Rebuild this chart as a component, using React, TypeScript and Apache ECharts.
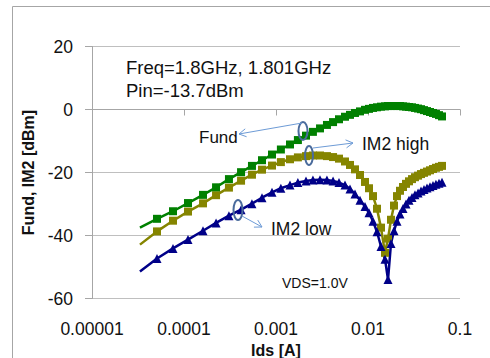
import React, { useEffect, useRef } from "react";
import * as echarts from "echarts";

// Drain current (A) of measured points (shared VGS sweep)
const ids = [
  5.09e-5, 7.59e-5, 1.105e-4, 1.61e-4, 2.23e-4, 3.08e-4, 4.17e-4, 5.48e-4, 7.04e-4, 9.05e-4,
  1.13e-3, 1.42e-3, 1.73e-3, 2.12e-3, 2.52e-3, 3.01e-3, 3.58e-3, 4.17e-3, 4.84e-3, 5.62e-3,
  6.37e-3, 7.22e-3, 8.19e-3, 9.28e-3, 1.025e-2, 1.133e-2, 1.252e-2, 1.384e-2, 1.53e-2, 1.65e-2,
  1.778e-2, 1.917e-2, 2.067e-2, 2.227e-2, 2.4e-2, 2.59e-2, 2.79e-2, 3.01e-2, 3.24e-2, 3.5e-2,
  3.77e-2, 4.06e-2, 4.38e-2, 4.72e-2, 5.09e-2, 5.48e-2, 5.91e-2, 6.37e-2,
];
// first point of the simulated lines (no marker)
const lineStartIds = 3.32e-5;

const fund = [
  -34.7, -32.3, -29.7, -27.1, -24.7, -22.1, -19.9, -17.9, -16.1, -14.3,
  -12.7, -11.1, -9.7, -8.3, -7.1, -6.0, -4.9, -4.0, -3.1, -2.3,
  -1.7, -1.1, -0.6, -0.1, 0.2, 0.5, 0.7, 0.9, 1.0, 1.1,
  1.1, 1.1, 1.1, 1.1, 1.0, 0.9, 0.8, 0.7, 0.5, 0.3,
  0.1, -0.2, -0.5, -0.8, -1.1, -1.4, -1.8, -2.2,
];
const fundStart = -37.5;

const im2High = [
  -38.7, -35.3, -32.4, -29.8, -27.2, -24.8, -22.6, -20.7, -19.1, -17.8,
  -16.7, -15.8, -15.2, -14.8, -14.6, -14.6, -14.8, -15.1, -15.6, -16.5,
  -17.6, -19.0, -20.8, -23.0, -25.0, -27.5, -31.5, -37.5, -45.5, -41.0,
  -35.0, -30.5, -27.5, -25.8, -24.6, -23.6, -22.8, -22.1, -21.5, -21.0,
  -20.5, -20.1, -19.7, -19.3, -18.9, -18.5, -18.2, -17.9,
];
const im2HighStart = -42.9;

const im2Low = [
  -47.3, -44.1, -41.3, -38.5, -36.0, -33.7, -31.8, -29.9, -28.0, -26.3,
  -25.0, -24.0, -23.2, -22.7, -22.4, -22.3, -22.4, -22.7, -23.2, -24.0,
  -25.2, -26.8, -28.8, -30.8, -32.8, -35.5, -38.8, -43.5, -47.5, -54.0,
  -42.5, -38.5, -35.5, -33.2, -31.4, -30.0, -28.8, -27.9, -27.1, -26.5,
  -25.9, -25.4, -24.9, -24.5, -24.1, -23.7, -23.4, -23.1,
];
const im2LowStart = -51.4;

const xTickLabels = ["0.00001", "0.0001", "0.001", "0.01", "0.1"];
const yTicks = [-60, -40, -20, 0, 20];

const FONT = '"Liberation Sans", Arial, sans-serif';

function build(start: number, vals: number[]) {
  return [
    { value: [lineStartIds, start], symbol: "none" },
    ...ids.map((x, i) => [x, vals[i]]),
  ];
}

function arrow(x1: number, y1: number, x2: number, y2: number) {
  const dx = x2 - x1;
  const dy = y2 - y1;
  const len = Math.sqrt(dx * dx + dy * dy);
  const ux = dx / len;
  const uy = dy / len;
  const nx = -uy;
  const ny = ux;
  const bx = x2 - 7 * ux;
  const by = y2 - 7 * uy;
  const st = { stroke: "#6d9bd6", lineWidth: 1, fill: "none" };
  return [
    { type: "line", shape: { x1, y1, x2, y2 }, style: st, z: 100 },
    {
      type: "polyline",
      shape: { points: [[bx + 4 * nx, by + 4 * ny], [x2, y2], [bx - 4 * nx, by - 4 * ny]] },
      style: st,
      z: 100,
    },
  ];
}

function txt(x: number, y: number, text: string, size: number) {
  return {
    type: "text",
    x,
    y,
    z: 100,
    style: { text, fill: "#111", font: `${size}px ${FONT}`, verticalAlign: "middle", align: "left" },
  };
}

function ell(cx: number, cy: number, rx: number, ry: number) {
  return {
    type: "ellipse",
    shape: { cx, cy, rx, ry },
    z: 100,
    style: { stroke: "#4a6b9c", lineWidth: 2, fill: "none" },
  };
}

export default function App() {
  const ref = useRef<HTMLDivElement>(null);
  useEffect(() => {
    if (!ref.current) return;
    const chart = echarts.init(ref.current, undefined, { renderer: "svg" });
    const option: any = {
      animation: false,
      backgroundColor: "#fff",
      grid: {
        left: 92,
        right: 30,
        top: 46.5,
        bottom: 59.5,
        containLabel: false,
        outerBoundsMode: "none",
      },
      xAxis: {
        type: "log",
        logBase: 10,
        min: 1e-5,
        max: 0.1,
        name: "Ids [A]",
        nameLocation: "middle",
        nameGap: 43,
        nameTextStyle: { fontSize: 16, fontWeight: "bold", color: "#111", fontFamily: FONT },
        axisLine: { show: true, lineStyle: { color: "#a6a6a6", width: 1 } },
        axisTick: { show: true, length: 6, inside: false, lineStyle: { color: "#a6a6a6" } },
        splitLine: { show: false },
        minorTick: { show: false },
        axisLabel: {
          fontSize: 17.5,
          color: "#111",
          fontFamily: FONT,
          margin: 21,
          formatter: (v: number) => xTickLabels[Math.round(Math.log10(v)) + 5] ?? "",
        },
      },
      yAxis: {
        type: "value",
        min: yTicks[0],
        max: yTicks[yTicks.length - 1],
        interval: 20,
        name: "Fund, IM2 [dBm]",
        nameLocation: "middle",
        nameGap: 56,
        nameTextStyle: { fontSize: 16, fontWeight: "bold", color: "#111", fontFamily: FONT },
        axisLine: { show: true, lineStyle: { color: "#a6a6a6", width: 1 } },
        axisTick: { show: true, length: 7, lineStyle: { color: "#a6a6a6" } },
        splitLine: { show: true, lineStyle: { color: "#bfbfbf", width: 1 } },
        axisLabel: { fontSize: 17.5, color: "#111", fontFamily: FONT, margin: 19 },
      },
      series: [
        {
          name: "IM2 high",
          type: "line",
          data: build(im2HighStart, im2High),
          symbol: "rect",
          symbolSize: 8,
          showAllSymbol: true,
          lineStyle: { color: "#858500", width: 2.5 },
          itemStyle: { color: "#858500" },
        },
        {
          name: "Fund",
          type: "line",
          data: build(fundStart, fund),
          symbol: "rect",
          symbolSize: 8,
          showAllSymbol: true,
          lineStyle: { color: "#008000", width: 2.5 },
          itemStyle: { color: "#008000" },
        },
        {
          name: "IM2 low",
          type: "line",
          data: build(im2LowStart, im2Low),
          symbol: "triangle",
          symbolSize: 9,
          showAllSymbol: true,
          lineStyle: { color: "#000088", width: 2.5 },
          itemStyle: { color: "#000088" },
        },
      ],
      graphic: [
        {
          type: "rect",
          shape: { x: 12.5, y: 6.5, width: 700, height: 700 },
          style: { stroke: "#a6a6a6", lineWidth: 1, fill: "none" },
          z: 0,
          silent: true,
        },
        txt(126, 67, "Freq=1.8GHz, 1.801GHz", 18.5),
        txt(126, 90, "Pin=-13.7dBm", 18.5),
        txt(199, 137, "Fund", 17),
        txt(362, 144, "IM2 high", 17.5),
        txt(271, 229, "IM2 low", 17.5),
        txt(282, 283, "VDS=1.0V", 14),
        ell(303, 131, 4.5, 9),
        ell(309, 155.5, 4, 9.5),
        ell(238, 210, 4.5, 10),
        ...arrow(302, 123, 239, 134),
        ...arrow(313, 148, 353, 143),
        ...arrow(242, 216, 262, 227),
      ],
    };
    chart.setOption(option);
    return () => chart.dispose();
  }, []);
  return (
    <div
      ref={ref}
      style={{ position: "fixed", left: 0, top: 0, width: 490, height: 358, background: "#fff" }}
    />
  );
}
